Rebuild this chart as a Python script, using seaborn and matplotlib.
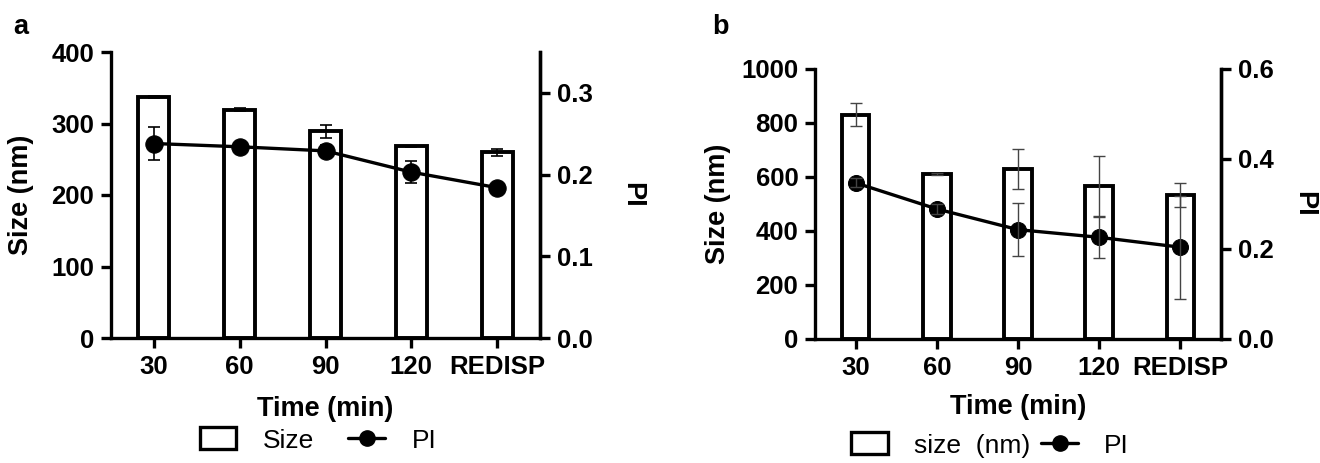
import matplotlib
matplotlib.use("Agg")
import matplotlib.pyplot as plt
from matplotlib.patches import Patch
from matplotlib.lines import Line2D
import numpy as np
import pandas as pd
import seaborn as sns

# Sampling times
times = ["30", "60", "90", "120", "REDISP"]

# Panel a: particle size (nm) and polydispersity index
size_a = [337, 319, 289, 268, 260]
size_a_err = [1, 2, 9, 1, 5]
pi_a = [0.238, 0.234, 0.229, 0.203, 0.184]
pi_a_err = [0.020, 0.005, 0.007, 0.013, 0.005]

# Panel b: particle size (nm) and polydispersity index
size_b = [831, 611, 629, 567, 534]
size_b_err = [42, 3, 75, 110, 44]
pi_b = [0.347, 0.289, 0.243, 0.226, 0.204]
pi_b_err = [0.010, 0.012, 0.059, 0.045, 0.114]

sns.set_theme(style="ticks")
plt.rcParams["font.family"] = ["Liberation Sans", "DejaVu Sans"]
plt.rcParams["text.color"] = "black"
plt.rcParams["axes.labelcolor"] = "black"
plt.rcParams["xtick.color"] = "black"
plt.rcParams["ytick.color"] = "black"

W, H = 1320, 463
fig = plt.figure(figsize=(W / 100, H / 100), dpi=100)

TICK_FS = 18.5
LABEL_FS = 19.5
LW = 2.4
BAR_LW = 2.8


def px_axes(l, r, t, b):
    return fig.add_axes([l / W, 1 - b / H, (r - l) / W, (b - t) / H])


def style_axis(ax):
    for side in ("left", "bottom", "right"):
        ax.spines[side].set_linewidth(LW)
        ax.spines[side].set_color("black")
    ax.spines["top"].set_visible(False)
    ax.tick_params(width=LW, length=7, labelsize=TICK_FS, colors="black", pad=5)
    for lab in ax.get_xticklabels() + ax.get_yticklabels():
        lab.set_fontweight("bold")


def panel(ax, size, size_err, pi, pi_err, ymax, yticks, pmax, pticks,
          bar_w, err_color, err_lw, msize, right_x, left_x):
    df = pd.DataFrame({"Time": times, "Size": size})
    sns.barplot(data=df, x="Time", y="Size", ax=ax, color="white",
                edgecolor="black", linewidth=BAR_LW, width=bar_w,
                errorbar=None, saturation=1)
    xpos = np.arange(len(times))
    ax.errorbar(xpos, size, yerr=size_err, fmt="none", ecolor=err_color,
                elinewidth=err_lw, capsize=4, capthick=err_lw, zorder=3)
    ax.set_xlim(-0.5, 4.5)
    ax.set_ylim(0, ymax)
    ax.set_yticks(yticks)
    ax.set_xlabel("Time (min)", fontsize=LABEL_FS, fontweight="bold")
    ax.set_ylabel("Size (nm)", fontsize=LABEL_FS, fontweight="bold")
    ax.xaxis.set_label_coords(0.5, -0.25)
    ax.xaxis.label.set_va("center")
    ax.yaxis.set_label_coords(left_x, 0.5)
    ax.yaxis.label.set_va("center")

    ax2 = ax.twinx()
    sns.lineplot(x=xpos, y=pi, ax=ax2, color="black", linewidth=LW,
                 marker="o", markersize=msize, markeredgecolor="black")
    ax2.errorbar(xpos, pi, yerr=pi_err, fmt="none", ecolor=err_color,
                 elinewidth=err_lw, capsize=4, capthick=err_lw, zorder=3)
    ax2.set_ylim(0, pmax)
    ax2.set_yticks(pticks)
    ax2.set_yticklabels([f"{t:.1f}" for t in pticks])
    ax2.set_ylabel("PI", fontsize=LABEL_FS, fontweight="bold", rotation=270)
    ax2.yaxis.set_label_coords(right_x, 0.5)
    ax2.yaxis.label.set_va("center")
    style_axis(ax)
    style_axis(ax2)
    ax2.spines["left"].set_visible(False)
    ax2.spines["bottom"].set_visible(False)
    return ax2


ax_a = px_axes(111, 540, 52, 338)
panel(ax_a, size_a, size_a_err, pi_a, pi_a_err, 400, [0, 100, 200, 300, 400],
      0.35, [0.0, 0.1, 0.2, 0.3], 0.36, "black", 1.2, 12.5, 1.215, -0.21)

ax_b = px_axes(815, 1221, 69, 339)
panel(ax_b, size_b, size_b_err, pi_b, pi_b_err, 1000,
      [0, 200, 400, 600, 800, 1000], 0.6, [0.0, 0.2, 0.4, 0.6],
      0.34, "#444444", 1.0, 11.5, 1.205, -0.24)

fig.text(21 / W, 1 - 27 / H, "a", fontsize=LABEL_FS, fontweight="bold",
         ha="center", va="center")
fig.text(720 / W, 1 - 27 / H, "b", fontsize=LABEL_FS, fontweight="bold",
         ha="center", va="center")


def legend_handles(label):
    box = Patch(facecolor="white", edgecolor="black", linewidth=LW, label=label)
    line = Line2D([], [], color="black", linewidth=LW, marker="o",
                  markersize=11, label="PI")
    return [box, line]


fig.legend(handles=legend_handles("Size"), loc="center",
           bbox_to_anchor=(318 / W, 1 - 440 / H), ncol=2, frameon=False,
           fontsize=19, handlelength=1.4, handleheight=0.9,
           handletextpad=1.0, columnspacing=1.3)
fig.legend(handles=legend_handles("size  (nm)"), loc="center",
           bbox_to_anchor=(990 / W, 1 - 445 / H), ncol=2, frameon=False,
           fontsize=19, handlelength=1.4, handleheight=0.9,
           handletextpad=1.0, columnspacing=0.4)

fig.savefig("out.png", dpi=100)
